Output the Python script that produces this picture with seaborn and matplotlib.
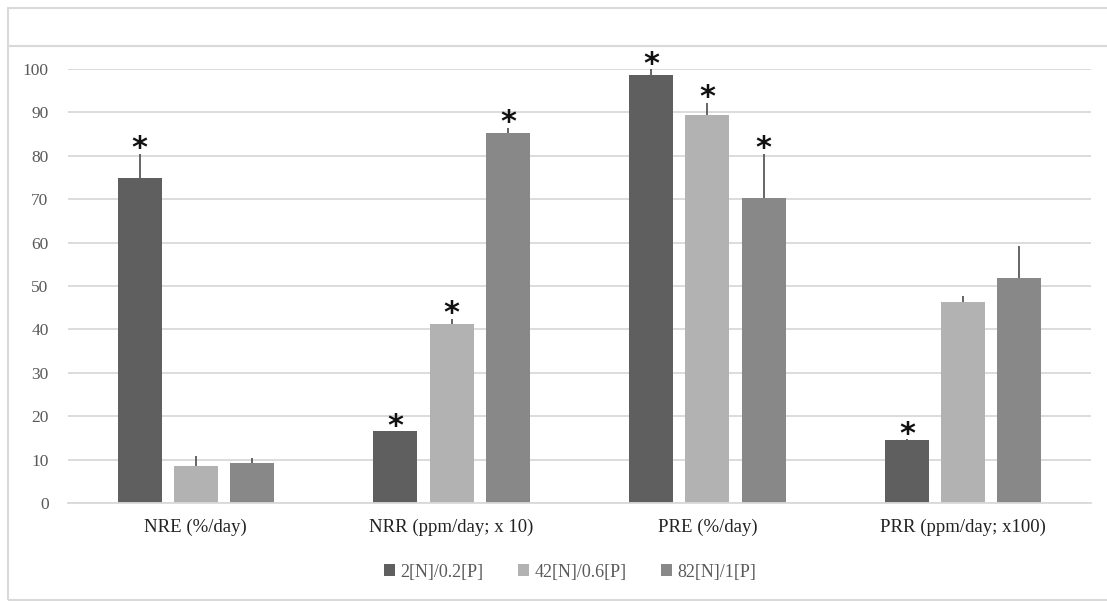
import matplotlib
matplotlib.use("Agg")
import matplotlib.pyplot as plt
import seaborn as sns
import pandas as pd
from matplotlib.patches import Rectangle
from matplotlib.lines import Line2D

categories = ["NRE (%/day)", "NRR (ppm/day; x 10)", "PRE (%/day)", "PRR (ppm/day; x100)"]
series = ["2[N]/0.2[P]", "42[N]/0.6[P]", "82[N]/1[P]"]
vals_2n = [75.0, 16.5, 98.7, 14.5]
vals_42n = [8.5, 41.3, 89.3, 46.4]
vals_82n = [9.2, 85.3, 70.3, 51.9]
err_2n = [5.5, 0.1, 1.3, 0.2]
err_42n = [2.3, 1.2, 2.9, 1.2]
err_82n = [1.1, 1.2, 10.2, 7.4]
star_2n = [True, True, True, True]
star_42n = [False, True, True, False]
star_82n = [False, True, True, False]
colors = ["#5f5f5f", "#b2b2b2", "#888888"]
yticks = [0, 10, 20, 30, 40, 50, 60, 70, 80, 90, 100]

rows = []
for s, v, e, st in zip(series, [vals_2n, vals_42n, vals_82n], [err_2n, err_42n, err_82n],
                       [star_2n, star_42n, star_82n]):
    for c, vi, ei, si in zip(categories, v, e, st):
        rows.append({"cat": c, "series": s, "value": vi, "err": ei, "star": si})
df = pd.DataFrame(rows)

sns.set_style("white")
plt.rcParams["font.family"] = ["Liberation Serif", "DejaVu Serif"]

fig = plt.figure(figsize=(11.07, 6.01), dpi=100)
ax = fig.add_axes([68 / 1107, 1 - 503 / 601, (1091 - 68) / 1107, (503 - 69) / 601])

sns.barplot(data=df, x="cat", y="value", hue="series", order=categories, hue_order=series,
            palette=colors, width=0.66, gap=0.22, errorbar=None, ax=ax, legend=False,
            saturation=1, edgecolor="none")

# error bars and asterisks
for hi, s in enumerate(series):
    cont = ax.containers[hi]
    sub = df[df["series"] == s].set_index("cat").loc[categories]
    for patch, (_, r) in zip(cont.patches, sub.iterrows()):
        xc = patch.get_x() + patch.get_width() / 2
        top = patch.get_height()
        ax.errorbar([xc], [top], yerr=[[0], [r["err"]]], fmt="none", ecolor="#595959",
                    elinewidth=1.3, capsize=0, zorder=3)
        if r["star"]:
            ax.text(xc, top + r["err"] - 2.2, "*", ha="center", va="bottom", fontsize=22,
                    fontweight="bold", color="#111111", family="DejaVu Sans", clip_on=False)

ax.set_ylim(0, 100)
ax.set_xlim(-0.5, 3.5)
ax.set_yticks(yticks)
ax.set_yticklabels([str(t) for t in yticks])
ax.yaxis.grid(True, color="#d9d9d9", linewidth=1.3)
ax.set_axisbelow(True)
for sp in ["top", "right", "left"]:
    ax.spines[sp].set_visible(False)
ax.spines["bottom"].set_color("#d9d9d9")
ax.spines["bottom"].set_linewidth(1.3)
ax.tick_params(axis="y", length=0, labelsize=12.5, labelcolor="#595959", pad=14)
ax.tick_params(axis="x", length=0, labelsize=13.5, labelcolor="#222222", pad=11)
ax.set_xlabel("")
ax.set_ylabel("")

handles = [Rectangle((0, 0), 1, 1, facecolor=c, edgecolor="none") for c in colors]
fig.legend(handles, series, loc="center", bbox_to_anchor=(0.515, 1 - 572 / 601), ncol=3,
           frameon=False, fontsize=13, handlelength=0.6, handleheight=0.6, handletextpad=0.3,
           columnspacing=1.9, labelcolor="#595959")

# outer chart frame and title band line
fig.add_artist(Rectangle((8 / 1107, 1 / 601), 1.2, 1 - 9 / 601, transform=fig.transFigure,
                         fill=False, edgecolor="#d9d9d9", linewidth=1.5))
fig.add_artist(Line2D([8 / 1107, 1], [1 - 46 / 601, 1 - 46 / 601], transform=fig.transFigure,
                      color="#d9d9d9", linewidth=1.5))

fig.savefig("out.png", dpi=100)
